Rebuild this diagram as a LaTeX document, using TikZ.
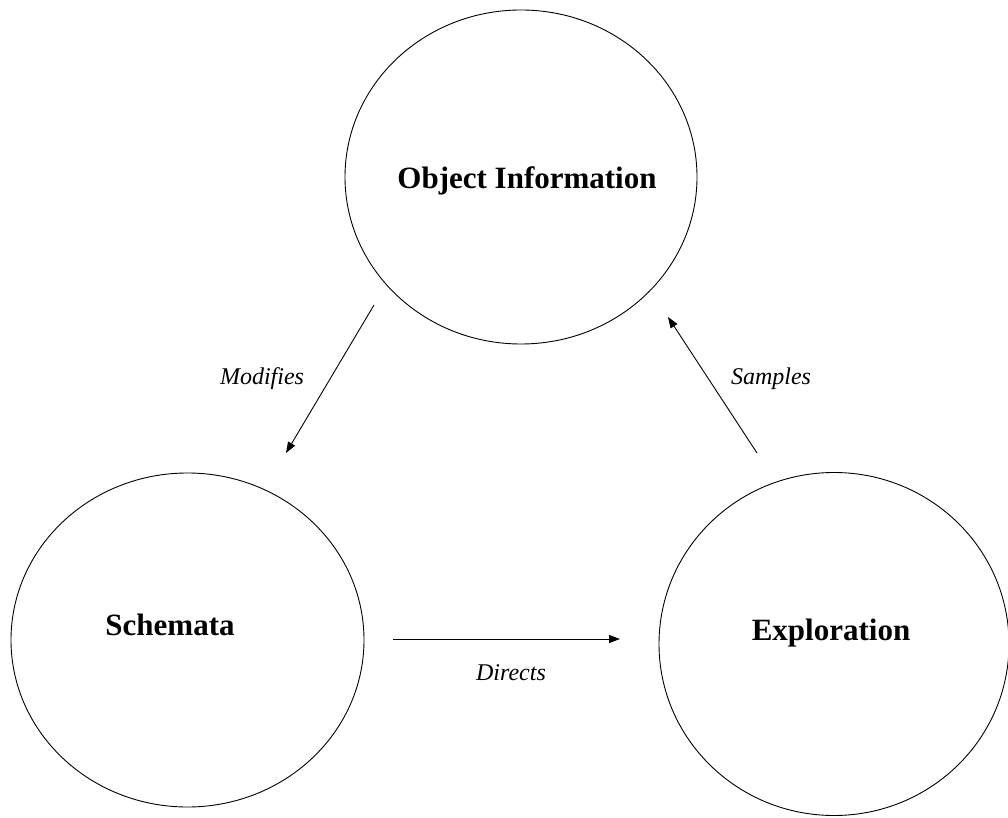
\documentclass[tikz,border=0pt]{standalone}
\usepackage{fontspec}
\setmainfont{Liberation Serif}
\usetikzlibrary{arrows.meta}
\usetikzlibrary{shapes.geometric}

\tikzset{
  bubble/.style={draw, ellipse, line width=0.9pt, inner sep=0pt},
  title/.style={font=\bfseries\fontsize{31}{31}\selectfont, anchor=base},
  verb/.style={font=\itshape\fontsize{24}{24}\selectfont, anchor=base},
  link/.style={-{Triangle[length=11pt,width=8pt]}, line width=0.9pt}
}

\begin{document}
\begin{tikzpicture}[x=1pt,y=1pt]
          \useasboundingbox (0,0) rectangle (1008,817);

          % the three circles
          \node[bubble, minimum width=352pt, minimum height=334pt] (objinfo) at (521,640) {};
          \node[bubble, minimum width=353pt, minimum height=334pt] (schemata) at (187.5,177) {};
          \node[bubble, minimum width=350pt, minimum height=343pt] (explore) at (834,173) {};

          \node[title] (objinfotext) at (527,628) {Object Information};
          \node[title] (schematatext) at (170,182) {Schemata};
          \node[title] (exploretext) at (831,177) {Exploration};

          % ends of the arrows
          \coordinate (modstart) at (374,512);
          \coordinate (modend) at (286,364);
          \coordinate (samstart) at (757,364);
          \coordinate (samend) at (668,500);
          \coordinate (dirstart) at (393,178);
          \coordinate (dirend) at (620,178);

          \draw[link] (modstart) -- (modend);
          \draw[link] (samstart) -- (samend);
          \draw[link] (dirstart) -- (dirend);

          \node[verb] (modlabel) at (262,432) {Modifies};
          \node[verb] (samlabel) at (771,432) {Samples};
          \node[verb] (dirlabel) at (511,137) {Directs};
        \end{tikzpicture}
\end{document}
